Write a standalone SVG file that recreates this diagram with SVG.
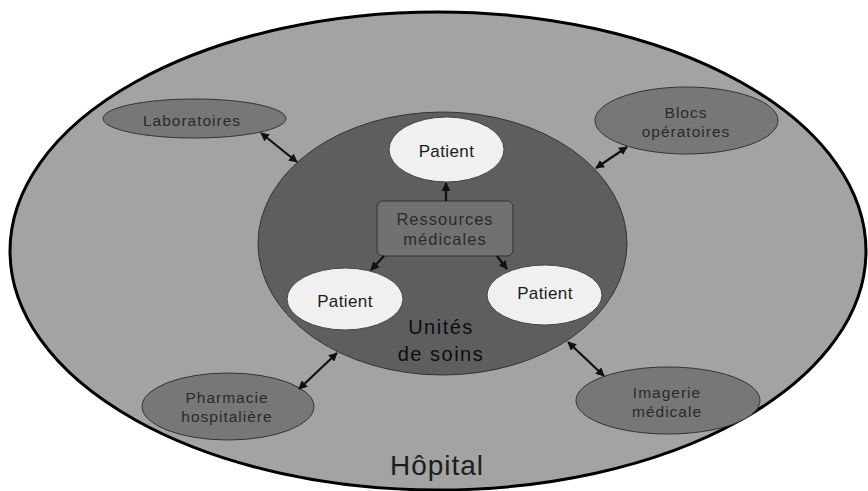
<svg xmlns="http://www.w3.org/2000/svg" width="868" height="491" viewBox="0 0 868 491">
<defs>
<marker id="ah" viewBox="0 0 10 10" refX="9" refY="5" markerWidth="4" markerHeight="4" orient="auto-start-reverse" markerUnits="strokeWidth">
<path d="M0,0 L10,5 L0,10 z" fill="#111"/>
</marker>
</defs>
<style>
.sat{fill:#777;stroke:#333;stroke-width:1}
.pat{fill:#f0f0f0;stroke:#444;stroke-width:1}
.t{font-family:"Liberation Sans",Arial,sans-serif;fill:#1c1c1c;text-anchor:middle}
.s15{font-size:15.5px;letter-spacing:1px;fill:#2a2a2a}
.s17{font-size:17px;letter-spacing:0.4px}
.con{stroke:#111;stroke-width:2.2;fill:none;marker-start:url(#ah);marker-end:url(#ah)}
.one{stroke:#111;stroke-width:2.2;fill:none;marker-end:url(#ah)}
</style>
<rect width="868" height="491" fill="#fff"/>
<g id="hopital">
<ellipse cx="438" cy="251" rx="428" ry="239" fill="#a3a3a3" stroke="#000" stroke-width="3"/>
<text class="t" x="437" y="475" font-size="28" letter-spacing="1" fill="#111">Hôpital</text>
</g>
<g id="unites">
<ellipse cx="442.5" cy="243.5" rx="184.5" ry="131.5" fill="#5e5e5e" stroke="#333" stroke-width="1"/>
<text class="t" x="441" y="334" font-size="20" letter-spacing="1.5" style="fill:#0d0d0d">Unités</text>
<text class="t" x="441" y="361" font-size="20" letter-spacing="1.5" style="fill:#0d0d0d">de soins</text>
</g>
<g id="laboratoires">
<ellipse class="sat" cx="194.5" cy="118.5" rx="91.5" ry="19.5"/>
<text class="t s15" x="192" y="126">Laboratoires</text>
</g>
<g id="blocs">
<ellipse class="sat" cx="686.5" cy="120.5" rx="91.5" ry="33.5"/>
<text class="t s15" x="686" y="118">Blocs</text>
<text class="t s15" x="686" y="137">opératoires</text>
</g>
<g id="pharmacie">
<ellipse class="sat" cx="228" cy="406.5" rx="86" ry="33.5"/>
<text class="t s15" x="227" y="403">Pharmacie</text>
<text class="t s15" x="227" y="422">hospitalière</text>
</g>
<g id="imagerie">
<ellipse class="sat" cx="668" cy="400.5" rx="92" ry="33.5"/>
<text class="t s15" x="667" y="398">Imagerie</text>
<text class="t s15" x="667" y="417">médicale</text>
</g>
<g id="patient1">
<ellipse class="pat" cx="446.5" cy="149.5" rx="57.5" ry="32.5"/>
<text class="t s17" x="446.5" y="157">Patient</text>
</g>
<g id="patient2">
<ellipse class="pat" cx="345" cy="299" rx="58" ry="31"/>
<text class="t s17" x="345" y="307">Patient</text>
</g>
<g id="patient3">
<ellipse class="pat" cx="544.5" cy="295" rx="57.5" ry="30"/>
<text class="t s17" x="545" y="299">Patient</text>
</g>
<g id="ressources">
<rect x="377" y="201" width="136" height="55" rx="6" fill="#717171" stroke="#333" stroke-width="1"/>
<text class="t" x="445" y="225" font-size="16.5" letter-spacing="1" style="fill:#2a2a2a">Ressources</text>
<text class="t" x="445" y="245" font-size="16.5" letter-spacing="1" style="fill:#2a2a2a">médicales</text>
</g>
<g id="connectors">
<line class="con" x1="261" y1="133" x2="297" y2="162"/>
<line class="con" x1="627" y1="147" x2="596" y2="168"/>
<line class="con" x1="337" y1="353" x2="299" y2="389"/>
<line class="con" x1="568" y1="342" x2="604" y2="376"/>
<line class="one" x1="446" y1="201" x2="446" y2="183"/>
<line class="one" x1="384" y1="256" x2="371" y2="270"/>
<line class="one" x1="497" y1="256" x2="507" y2="269"/>
</g>
</svg>
